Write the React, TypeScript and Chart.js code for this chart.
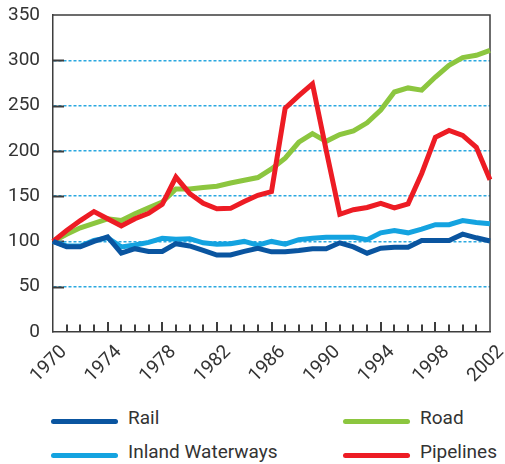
import React, { useEffect, useRef } from "react";
import { Chart, registerables } from "chart.js";

Chart.register(...registerables);

const years = [
  "1970", "1971", "1972", "1973", "1974", "1975", "1976", "1977", "1978", "1979",
  "1980", "1981", "1982", "1983", "1984", "1985", "1986", "1987", "1988", "1989",
  "1990", "1991", "1992", "1993", "1994", "1995", "1996", "1997", "1998", "1999",
  "2000", "2001", "2002",
];
const tickYears = ["1970", "1974", "1978", "1982", "1986", "1990", "1994", "1998", "2002"];
const yTickValues = [0, 50, 100, 150, 200, 250, 300, 350];

const rail = [100, 94, 94, 100, 105, 87, 92, 89, 89, 97.5, 95, 90, 85, 85, 89, 92.5, 88.5, 88.5, 90, 92, 92, 98.5, 94, 87, 92.5, 93.5, 93.5, 101, 101, 101, 108, 104, 100.5];
const waterways = [100, 95, 95, 101, 104, 94, 96, 99, 103.5, 102.5, 103, 98.5, 97, 97.5, 100, 96, 100, 97, 102, 103.5, 104.5, 104.5, 104.5, 102, 109.5, 112, 109.5, 113.5, 118.5, 118.5, 123, 121, 119.5];
const road = [100, 108, 115, 120, 125, 123, 130.5, 137, 143.5, 158, 158, 159.5, 161, 164.5, 167.5, 170.5, 180, 192, 209.5, 219, 210.5, 218, 222, 231, 245, 265, 269.5, 267, 281.5, 294.5, 303, 305.5, 311];
const pipelines = [100, 112, 123, 133, 125, 117, 125, 131, 141, 171, 153, 142, 136, 136.5, 144, 151, 155, 247, 261, 274, 201, 130, 135, 137.5, 142, 137, 141.5, 175, 215, 222.5, 217, 204, 168];

const C_RAIL = "#0a55a0";
const C_WATER = "#14a3e0";
const C_ROAD = "#8cc63f";
const C_PIPE = "#ed1c24";
const AXIS = "#3d3d3d";
const GRID = "#2aa8e0";
const TEXT = "#333333";
const FONT = "Roboto";

const CANVAS_W = 505;
const CANVAS_H = 395;
const PLOT_LEFT = 53;
const PLOT_BOTTOM = 332;

const framePlugin = {
  id: "frame",
  beforeDatasetsDraw(chart: any) {
    const { ctx, chartArea, scales } = chart;
    const { left, right, top, bottom } = chartArea;
    const x = scales.x;
    const y = scales.y;
    ctx.save();
    ctx.strokeStyle = AXIS;
    ctx.lineWidth = 1.5;
    ctx.beginPath();
    ctx.moveTo(left, top);
    ctx.lineTo(right, top);
    ctx.lineTo(right, bottom);
    ctx.stroke();
    ctx.lineWidth = 2;
    ctx.beginPath();
    yTickValues.forEach((v) => {
      if (v === 0 || v === 350) return;
      const py = Math.round(y.getPixelForValue(v)) + 0.5;
      ctx.moveTo(left, py);
      ctx.lineTo(left + 11, py);
    });
    years.forEach((yr, i) => {
      if (i === 0 || i === years.length - 1) return;
      const px = Math.round(x.getPixelForValue(i));
      const len = tickYears.includes(yr) ? 10 : 7.5;
      ctx.moveTo(px, bottom);
      ctx.lineTo(px, bottom - len);
    });
    ctx.stroke();
    ctx.restore();
  },
};

const legendItems = [
  { label: "Rail", color: C_RAIL, left: 51, top: 404 },
  { label: "Road", color: C_ROAD, left: 343, top: 404 },
  { label: "Inland Waterways", color: C_WATER, left: 51, top: 438 },
  { label: "Pipelines", color: C_PIPE, left: 343, top: 438 },
];

export default function App() {
  const canvasRef = useRef<HTMLCanvasElement | null>(null);

  useEffect(() => {
    if (!canvasRef.current) return;
    const ds = (label: string, data: number[], color: string, order: number) => ({
      label,
      data,
      borderColor: color,
      backgroundColor: color,
      borderWidth: 5,
      pointRadius: 0,
      tension: 0,
      borderJoinStyle: "miter" as const,
      borderCapStyle: "butt" as const,
      fill: false,
      order,
    });
    const chart = new Chart(canvasRef.current, {
      type: "line",
      data: {
        labels: years,
        datasets: [
          ds("Rail", rail, C_RAIL, 0),
          ds("Inland Waterways", waterways, C_WATER, 2),
          ds("Road", road, C_ROAD, 3),
          ds("Pipelines", pipelines, C_PIPE, 1),
        ],
      },
      options: {
        animation: false,
        responsive: false,
        devicePixelRatio: 1,
        layout: { padding: { left: 0, right: 15, top: 15, bottom: 0 } },
        plugins: {
          legend: { display: false },
          tooltip: { enabled: false },
        },
        scales: {
          x: {
            type: "category",
            offset: false,
            grid: { display: false, drawTicks: false },
            border: { display: true, color: AXIS, width: 1.5 },
            ticks: {
              autoSkip: false,
              minRotation: 45,
              maxRotation: 45,
              padding: 9,
              labelOffset: 11,
              color: TEXT,
              font: { family: FONT, size: 19 },
              callback: (_v: any, i: number) => (tickYears.includes(years[i]) ? years[i] : ""),
            },
            afterFit: (scale: any) => {
              scale.height = CANVAS_H - PLOT_BOTTOM;
              scale.paddingLeft = 0;
              scale.paddingRight = 0;
              scale.paddingTop = 0;
              scale.paddingBottom = 0;
            },
          },
          y: {
            min: 0,
            max: 350,
            grid: {
              drawTicks: false,
              lineWidth: 1.5,
              color: (c: any) =>
                c.tick && (c.tick.value === 0 || c.tick.value === 350) ? "rgba(0,0,0,0)" : GRID,
            },
            border: { display: true, color: AXIS, width: 1.5, dash: [3, 2] },
            ticks: {
              stepSize: 50,
              padding: 13,
              color: TEXT,
              font: { family: FONT, size: 19 },
            },
            afterFit: (scale: any) => {
              scale.width = PLOT_LEFT;
              scale.paddingLeft = 0;
              scale.paddingRight = 0;
              scale.paddingTop = 0;
              scale.paddingBottom = 0;
            },
          },
        },
      },
      plugins: [framePlugin],
    });
    return () => chart.destroy();
  }, []);

  return (
    <div style={{ position: "absolute", left: 0, top: 0, width: 505, height: 464, background: "#fff", fontFamily: FONT }}>
      <canvas ref={canvasRef} width={CANVAS_W} height={CANVAS_H} style={{ position: "absolute", left: 0, top: 0 }} />
      {legendItems.map((it) => (
        <div key={it.label} style={{ position: "absolute", left: it.left, top: it.top, height: 28, display: "flex", alignItems: "center" }}>
          <div style={{ width: 67, height: 5, borderRadius: 3, background: it.color, marginTop: 6 }} />
          <span style={{ marginLeft: 10, fontSize: 19, color: TEXT, lineHeight: "28px", whiteSpace: "nowrap" }}>{it.label}</span>
        </div>
      ))}
    </div>
  );
}
